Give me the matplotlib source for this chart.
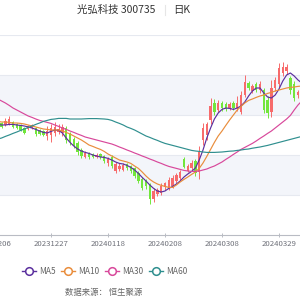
import matplotlib
matplotlib.use("Agg")
import matplotlib.pyplot as plt
from matplotlib.lines import Line2D
import numpy as np
import pandas as pd

plt.rcParams['font.family'] = ['Noto Sans CJK SC', 'DejaVu Sans']

# trading days shown (holidays removed)
holidays = ['2024-01-01', '2024-02-09', '2024-02-12', '2024-02-13', '2024-02-14',
            '2024-02-15', '2024-02-16', '2024-04-04', '2024-04-05']
dates = pd.bdate_range('2023-12-06', '2024-04-10', freq='C', holidays=holidays)
date_labels = [d.strftime('%Y%m%d') for d in dates]

opens = [17.45, 17.60, 17.60, 17.50, 17.55, 17.65, 17.55, 17.50, 17.35, 17.30,
         17.35, 17.35, 17.25, 17.20, 16.95, 17.00, 17.10, 17.15, 17.10, 17.35,
         17.05, 16.80, 16.60, 16.25, 15.90, 16.10, 16.05, 15.90, 16.05, 15.95,
         15.60, 15.90, 15.20, 15.30, 15.25, 15.55, 15.45, 15.35, 15.10, 14.80,
         14.70, 14.50, 13.80, 14.05, 14.10, 14.40, 14.35, 14.45, 14.70, 14.85,
         15.80, 15.20, 15.35, 15.70, 15.15, 16.75, 17.00, 17.75, 18.60, 18.25,
         18.60, 18.55, 18.35, 18.60, 18.35, 18.15, 19.00, 19.60, 19.20, 19.55,
         19.25, 19.25, 18.75, 18.15, 19.35, 19.55, 20.10, 20.20, 19.85, 19.55,
         19.00, 19.15]
closes = [17.60, 17.45, 17.40, 17.70, 17.80, 17.40, 17.35, 17.25, 17.10, 17.45,
          17.50, 17.05, 17.05, 17.00, 17.20, 17.35, 17.40, 17.30, 17.40, 16.75,
          16.65, 16.45, 16.15, 15.95, 16.10, 15.90, 15.90, 16.00, 15.90, 15.70,
          15.80, 15.45, 15.55, 15.45, 15.50, 15.35, 15.20, 14.95, 14.70, 14.35,
          14.45, 13.80, 14.20, 14.25, 14.45, 14.60, 14.75, 14.85, 15.00, 15.15,
          15.40, 15.45, 15.60, 15.10, 16.15, 17.35, 17.55, 18.45, 18.15, 18.60,
          18.35, 18.30, 18.55, 18.35, 18.60, 19.00, 19.65, 19.35, 19.45, 19.25,
          19.55, 18.25, 18.10, 19.35, 19.75, 20.35, 20.40, 20.40, 19.25, 18.85,
          19.15, 18.95]
highs = [17.70, 17.65, 17.65, 17.85, 17.95, 17.70, 17.60, 17.55, 17.40, 17.50,
         17.55, 17.40, 17.30, 17.25, 17.45, 17.55, 17.65, 17.55, 17.55, 17.45,
         17.15, 16.90, 16.70, 16.35, 16.20, 16.15, 16.10, 16.10, 16.10, 16.00,
         15.90, 16.00, 15.65, 15.60, 15.60, 15.60, 15.50, 15.40, 15.20, 14.90,
         14.80, 14.60, 14.35, 14.35, 14.60, 14.65, 14.90, 15.00, 15.10, 15.25,
         15.90, 15.55, 15.75, 15.80, 16.45, 17.60, 17.65, 18.85, 18.80, 18.75,
         18.70, 18.65, 18.65, 18.70, 18.95, 19.20, 20.00, 19.70, 19.55, 19.65,
         19.70, 19.35, 18.95, 19.75, 19.90, 20.60, 20.65, 20.55, 19.95, 19.70,
         19.25, 19.25]
lows = [17.35, 17.35, 17.35, 17.45, 17.50, 17.35, 17.30, 17.20, 17.05, 17.25,
        17.30, 16.95, 17.00, 16.95, 16.75, 16.65, 16.95, 17.05, 16.95, 16.60,
        16.50, 16.35, 16.00, 15.85, 15.85, 15.80, 15.85, 15.85, 15.80, 15.60,
        15.45, 15.35, 15.10, 15.20, 15.20, 15.25, 15.10, 14.85, 14.60, 14.25,
        14.30, 13.55, 13.65, 13.95, 14.00, 14.25, 14.25, 14.35, 14.60, 14.75,
        15.35, 15.15, 15.25, 14.95, 14.80, 16.50, 16.75, 17.55, 18.00, 18.15,
        18.20, 18.20, 18.25, 18.25, 18.20, 18.05, 18.90, 19.25, 19.10, 19.15,
        19.10, 18.10, 17.85, 17.90, 19.20, 19.40, 19.95, 20.05, 19.05, 18.70,
        18.85, 18.80]

ma5 = [17.55, 17.53, 17.50, 17.50, 17.53, 17.53, 17.50, 17.48, 17.45, 17.40,
       17.35, 17.28, 17.20, 17.13, 17.10, 17.18, 17.25, 17.23, 17.10, 16.85,
       16.63, 16.45, 16.30, 16.20, 16.13, 16.08, 16.00, 15.95, 15.90, 15.88,
       15.83, 15.75, 15.65, 15.58, 15.55, 15.48, 15.38, 15.25, 15.08, 14.88,
       14.70, 14.50, 14.33, 14.20, 14.15, 14.20, 14.33, 14.43, 14.55, 14.70,
       14.90, 15.05, 15.18, 15.35, 15.75, 16.25, 16.85, 17.35, 17.80, 18.10,
       18.28, 18.35, 18.33, 18.28, 18.35, 18.45, 18.65, 18.95, 19.20, 19.35,
       19.35, 19.10, 18.90, 18.85, 19.00, 19.30, 19.70, 20.00, 20.10, 19.95,
       19.75, 19.60]
ma10 = [17.70, 17.68, 17.65, 17.65, 17.63, 17.60, 17.60, 17.58, 17.55, 17.50,
        17.45, 17.40, 17.35, 17.30, 17.28, 17.25, 17.25, 17.25, 17.20, 17.13,
        17.05, 16.95, 16.85, 16.75, 16.63, 16.50, 16.43, 16.35, 16.28, 16.18,
        16.05, 15.95, 15.85, 15.75, 15.70, 15.65, 15.58, 15.45, 15.33, 15.15,
        14.95, 14.78, 14.65, 14.55, 14.48, 14.43, 14.38, 14.38, 14.50, 14.65,
        14.78, 14.90, 15.03, 15.15, 15.33, 15.60, 15.93, 16.28, 16.63, 16.95,
        17.20, 17.48, 17.75, 18.00, 18.25, 18.43, 18.60, 18.73, 18.80, 18.88,
        18.95, 19.00, 19.08, 19.13, 19.20, 19.25, 19.30, 19.35, 19.38, 19.40,
        19.43, 19.45]
ma30 = [18.90, 18.80, 18.70, 18.60, 18.48, 18.35, 18.25, 18.15, 18.05, 17.95,
        17.88, 17.80, 17.73, 17.68, 17.63, 17.58, 17.50, 17.43, 17.35, 17.28,
        17.20, 17.13, 17.05, 16.98, 16.90, 16.85, 16.80, 16.75, 16.70, 16.65,
        16.60, 16.55, 16.48, 16.40, 16.33, 16.25, 16.18, 16.10, 16.03, 15.95,
        15.88, 15.80, 15.73, 15.65, 15.58, 15.50, 15.43, 15.38, 15.33, 15.28,
        15.23, 15.20, 15.18, 15.18, 15.20, 15.25, 15.30, 15.38, 15.45, 15.55,
        15.65, 15.78, 15.90, 16.03, 16.15, 16.28, 16.38, 16.48, 16.58, 16.70,
        16.83, 16.95, 17.08, 17.20, 17.35, 17.50, 17.65, 17.80, 17.98, 18.25,
        18.50, 18.70]
ma60 = [16.75, 16.80, 16.85, 16.93, 17.00, 17.08, 17.15, 17.23, 17.30, 17.38,
        17.45, 17.53, 17.60, 17.68, 17.73, 17.78, 17.80, 17.83, 17.83, 17.83,
        17.80, 17.80, 17.80, 17.80, 17.81, 17.82, 17.82, 17.82, 17.81, 17.80,
        17.78, 17.73, 17.65, 17.58, 17.50, 17.40, 17.33, 17.25, 17.15, 17.05,
        16.95, 16.88, 16.80, 16.73, 16.65, 16.58, 16.53, 16.48, 16.43, 16.38,
        16.33, 16.28, 16.23, 16.20, 16.18, 16.15, 16.13, 16.13, 16.13, 16.14,
        16.15, 16.17, 16.19, 16.20, 16.23, 16.25, 16.28, 16.30, 16.34, 16.37,
        16.40, 16.44, 16.48, 16.53, 16.58, 16.63, 16.68, 16.73, 16.78, 16.83,
        16.88, 16.93]

ma_names = ['MA5', 'MA10', 'MA30', 'MA60']
ma_colors = ['#5b2f9e', '#e98d3c', '#d8489b', '#2f8f8f']
tick_idx = [0, 15, 30, 45, 60, 75]

up_color = '#f76b6b'
down_color = '#72e63c'

fig = plt.figure(figsize=(3, 3), dpi=100)
ax = fig.add_axes([-20 / 300, 65 / 300, 340 / 300, 200 / 300])

x = np.arange(len(dates))
o = np.array(opens)
c = np.array(closes)
h = np.array(highs)
l = np.array(lows)

# split areas and lines
for lo, hi in [(18, 20), (14, 16)]:
    ax.axhspan(lo, hi, color='#f3f5fa', zorder=0, lw=0)
for yv in [14, 16, 18, 20, 22]:
    ax.axhline(yv, color='#e6e9f0', lw=0.8, zorder=0.5)

up = c >= o
colors = np.where(up, up_color, down_color)
ax.vlines(x, l, h, colors=colors, lw=0.7, zorder=2)
body_lo = np.minimum(o, c)
body_h = np.maximum(np.abs(c - o), 0.04)
ax.bar(x, body_h, bottom=body_lo, width=0.62, color=colors, lw=0, zorder=2)

for vals, col in zip([ma5, ma10, ma30, ma60], ma_colors):
    ax.plot(x, vals, color=col, lw=0.85, zorder=3, solid_capstyle='round')

ax.set_xlim((-20 + 6) / 3.8, (320 + 6) / 3.8)
ax.set_ylim(12, 22)
for s in ['top', 'right', 'left']:
    ax.spines[s].set_visible(False)
ax.spines['bottom'].set_color('#b9bcc4')
ax.spines['bottom'].set_linewidth(0.8)
ax.set_yticks([])
ax.set_xticks(tick_idx)
ax.set_xticklabels([date_labels[i] for i in tick_idx])
ax.tick_params(axis='x', direction='inout', length=3, width=0.7, color='#b9bcc4',
               labelsize=5.6, labelcolor='#6e7079', pad=2)

# title
fig.text(116 / 300, 1 - 10 / 300, '光弘科技 300735', ha='center', va='center',
         fontsize=7.5, color='#333333')
fig.add_artist(Line2D([165 / 300, 165 / 300], [1 - 15 / 300, 1 - 5 / 300],
                      color='#e6e6e6', lw=0.8))
fig.text(173 / 300, 1 - 10 / 300, '日K', ha='left', va='center',
         fontsize=7.5, color='#333333')

# legend
leg_y = 1 - 271 / 300
for name, col, mx in zip(ma_names, ma_colors, [28.5, 67.5, 111.5, 155.5]):
    fig.add_artist(Line2D([(mx - 7) / 300, (mx + 7) / 300], [leg_y, leg_y],
                          color=col, lw=1.0))
    fig.add_artist(Line2D([mx / 300], [leg_y], marker='o', markersize=5.5,
                          markerfacecolor='white', markeredgecolor=col,
                          markeredgewidth=1.1, color=col))
    fig.text((mx + 11) / 300, leg_y, name, ha='left', va='center',
             fontsize=6, color='#666666')

fig.text(104 / 300, 1 - 293 / 300, '数据来源： 恒生聚源', ha='center', va='center',
         fontsize=6, color='#666666')

fig.savefig('out.png', dpi=100)
